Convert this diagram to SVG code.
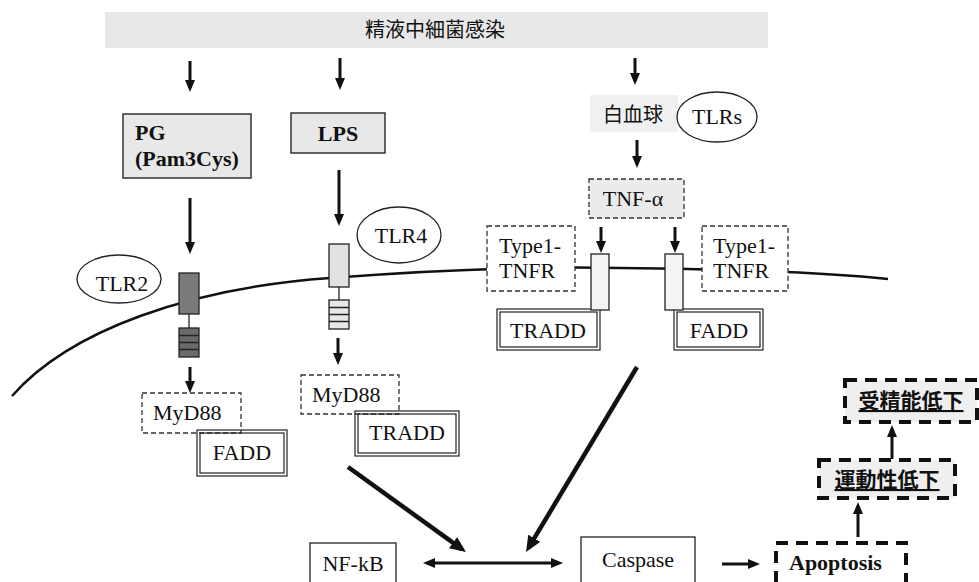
<svg xmlns="http://www.w3.org/2000/svg" width="979" height="582" viewBox="0 0 979 582">
<style>
text{font-family:'Liberation Serif',Times,serif}
.t{font-family:'Liberation Serif',Times,serif;font-size:22px;fill:#111}
.b{font-weight:bold}
.cjk{font-family:'Noto Sans CJK JP','Noto Sans CJK SC',sans-serif;fill:#111}
.gray{fill:#e8e8e8;stroke:#333;stroke-width:1.5}
.dash{fill:#fff;stroke:#333;stroke-width:1.3;stroke-dasharray:5 3}
.dashg{fill:#ebebeb;stroke:#333;stroke-width:1.3;stroke-dasharray:5 3}
.thick{fill:#fff;stroke:#111;stroke-width:4;stroke-dasharray:12 8}
.thickg{fill:#efefef;stroke:#111;stroke-width:4;stroke-dasharray:12 8}
.box{fill:#fff;stroke:#222;stroke-width:1.3}
.dbl{fill:none;stroke:#222;stroke-width:1.2}
.ell{fill:#fff;stroke:#222;stroke-width:1.3}
.rec{stroke:#222;stroke-width:1.3}
.arr{stroke:#111;stroke-width:3;fill:none;marker-end:url(#ah)}
.arrb{stroke:#111;stroke-width:4.5;fill:none;marker-end:url(#ahb)}
</style>
<defs>
<marker id="ah" viewBox="0 0 12 12" markerWidth="12" markerHeight="12" markerUnits="userSpaceOnUse" refX="8" refY="6" orient="auto-start-reverse"><path d="M0,1 L12,6 L0,11 z" fill="#111"/></marker>
<marker id="ahb" viewBox="0 0 16 14" markerWidth="16" markerHeight="14" markerUnits="userSpaceOnUse" refX="11" refY="7" orient="auto"><path d="M0,0 L16,7 L0,14 z" fill="#111"/></marker>
</defs>
<rect width="979" height="582" fill="#fff"/>

<g id="membrane"><path d="M12,396 C70,330 190,288 330,278 C420,271 520,266 620,268 C720,269 820,272 888,279" fill="none" stroke="#111" stroke-width="2.5"/></g>

<g id="banner"><rect x="105" y="12" width="663" height="36" fill="#e8e8e8"/><text class="cjk" x="435" y="37" font-size="20" text-anchor="middle">精液中細菌感染</text></g>

<g id="pg"><rect class="gray" x="123" y="114" width="128" height="64"/><text class="t b" x="135" y="140">PG</text><text class="t b" x="135" y="166">(Pam3Cys)</text></g>
<g id="lps"><rect class="gray" x="291" y="113" width="94" height="40"/><text class="t b" x="338" y="141" text-anchor="middle">LPS</text></g>

<g id="wbc"><rect x="590" y="95" width="88" height="37" fill="#f0f0f0"/><text class="cjk" x="633" y="122" font-size="20" text-anchor="middle">白血球</text></g>
<g id="tlrs"><ellipse class="ell" cx="717" cy="117" rx="40" ry="25"/><text class="t" x="717" y="124" text-anchor="middle" font-size="21">TLRs</text></g>
<g id="tnfa"><rect class="dashg" x="589" y="179" width="95" height="39"/><text class="t" x="633" y="206" text-anchor="middle">TNF-α</text></g>

<g id="tlr2"><ellipse class="ell" cx="119" cy="279" rx="42" ry="24"/><text class="t" x="122" y="291" text-anchor="middle">TLR2</text></g>
<g id="tlr4"><ellipse class="ell" cx="399" cy="235" rx="42" ry="28"/><text class="t" x="401" y="243" text-anchor="middle">TLR4</text></g>

<g id="tlr2-receptor">
<rect class="rec" x="179" y="273" width="20" height="41" fill="#7a7a7a"/>
<line x1="189" y1="314" x2="189" y2="328" stroke="#222" stroke-width="1.3"/>
<rect class="rec" x="179" y="328" width="20" height="29" fill="#6a6a6a"/>
<path d="M179,335.5 H199 M179,342.5 H199 M179,349.5 H199" stroke="#222" stroke-width="1.3"/>
</g>
<g id="tlr4-receptor">
<rect class="rec" x="329" y="244" width="20" height="43" fill="#e2e2e2"/>
<line x1="339" y1="287" x2="339" y2="300" stroke="#222" stroke-width="1.3"/>
<rect class="rec" x="329" y="300" width="20" height="29" fill="#e6e6e6"/>
<path d="M329,307.5 H349 M329,314.5 H349 M329,321.5 H349" stroke="#222" stroke-width="1.3"/>
</g>

<g id="tnfr-left"><rect class="dash" x="487" y="226" width="88" height="65"/><text class="t" x="499" y="253">Type1-</text><text class="t" x="499" y="278">TNFR</text></g>
<g id="tnfr-right"><rect class="dash" x="702" y="226" width="86" height="65"/><text class="t" x="713" y="253">Type1-</text><text class="t" x="713" y="278">TNFR</text></g>

<g id="tradd-top"><rect x="497" y="309" width="103" height="41" fill="#f0f0f0" class="dbl"/><rect class="dbl" x="500" y="312" width="97" height="35"/><text class="t" x="548" y="338" text-anchor="middle">TRADD</text></g>
<g id="fadd-top"><rect x="674" y="309" width="89" height="41" fill="#f0f0f0" class="dbl"/><rect class="dbl" x="677" y="312" width="83" height="35"/><text class="t" x="719" y="338" text-anchor="middle">FADD</text></g>

<g id="tnfr-receptor-left"><rect class="rec" x="591" y="254" width="18" height="56" fill="#f4f4f4"/></g>
<g id="tnfr-receptor-right"><rect class="rec" x="665" y="254" width="18" height="56" fill="#f4f4f4"/></g>

<g id="myd88-left"><rect class="dash" x="142" y="393" width="99" height="40"/><text class="t" x="153" y="420">MyD88</text></g>
<g id="fadd-left"><rect x="197" y="430" width="90" height="46" fill="#fff" class="dbl"/><rect class="dbl" x="200" y="433" width="84" height="40"/><text class="t" x="242" y="460" text-anchor="middle">FADD</text></g>
<g id="myd88-right"><rect class="dash" x="301" y="375" width="98" height="39"/><text class="t" x="312" y="402">MyD88</text></g>
<g id="tradd-left"><rect x="355" y="411" width="104" height="45" fill="#fff" class="dbl"/><rect class="dbl" x="358" y="414" width="98" height="39"/><text class="t" x="407" y="440" text-anchor="middle">TRADD</text></g>

<g id="nfkb"><rect class="box" x="310" y="543" width="86" height="50"/><text class="t" x="353" y="571" text-anchor="middle">NF-kB</text></g>
<g id="caspase"><rect class="box" x="581" y="537" width="114" height="55"/><text class="t" x="638" y="567" text-anchor="middle" font-size="24">Caspase</text></g>
<g id="apoptosis"><rect class="thick" x="776" y="543" width="130" height="60"/><text class="t b" x="789" y="570" font-size="21">Apoptosis</text></g>
<g id="motility"><rect class="thickg" x="819" y="460" width="136" height="38"/><text class="cjk" x="887" y="487" font-size="21" font-weight="bold" text-anchor="middle" text-decoration="underline">運動性低下</text></g>
<g id="fertility"><rect class="thickg" x="845" y="380" width="132" height="42"/><text class="cjk" x="911" y="408" font-size="21" font-weight="bold" text-anchor="middle" text-decoration="underline">受精能低下</text></g>

<g id="connectors">
<line class="arr" x1="190" y1="61" x2="190" y2="88"/>
<line class="arr" x1="340" y1="58" x2="340" y2="86"/>
<line class="arr" x1="635" y1="58" x2="635" y2="81"/>
<line class="arr" x1="190" y1="198" x2="190" y2="250"/>
<line class="arr" x1="339" y1="170" x2="339" y2="222"/>
<line class="arr" x1="637" y1="140" x2="637" y2="164"/>
<line class="arr" x1="601" y1="227" x2="601" y2="249"/>
<line class="arr" x1="675" y1="227" x2="675" y2="249"/>
<line class="arr" x1="190" y1="367" x2="190" y2="389"/>
<line class="arr" x1="338" y1="338" x2="338" y2="361"/>
<line class="arrb" x1="348" y1="467" x2="461.9" y2="549.1"/>
<line class="arrb" x1="637" y1="367" x2="528.6" y2="547.7"/>
<line class="arr" x1="427" y1="563" x2="559" y2="563" marker-start="url(#ah)"/>
<line class="arr" x1="722" y1="564" x2="756" y2="564"/>
<line class="arr" x1="858" y1="537" x2="858" y2="506"/>
<line class="arr" x1="892" y1="459" x2="892" y2="429"/>
</g>
</svg>
